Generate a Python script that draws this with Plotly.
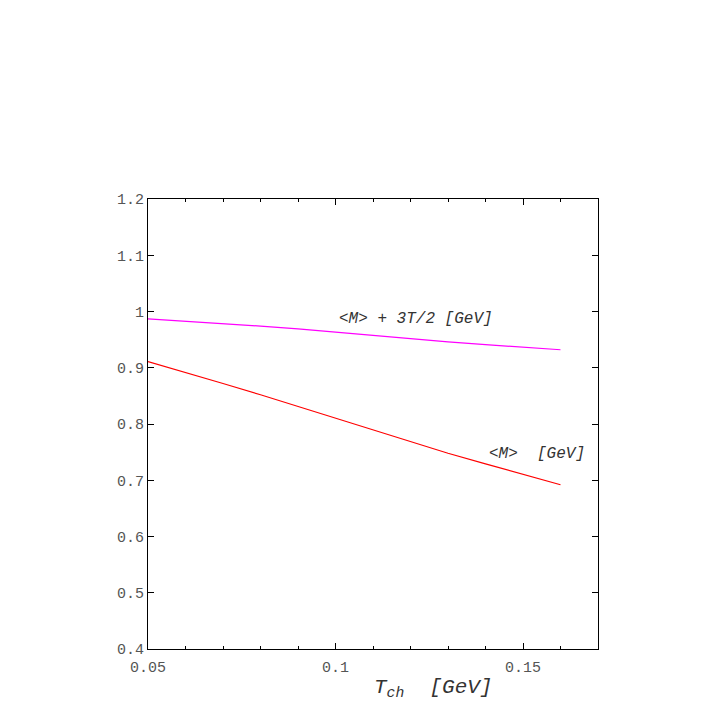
import plotly.graph_objects as go

T = [0.05, 0.06, 0.07, 0.08, 0.09, 0.10, 0.11, 0.12, 0.13, 0.14, 0.15, 0.16]
M_mean = [0.911, 0.892, 0.872, 0.852, 0.831, 0.810, 0.789, 0.768, 0.748, 0.729, 0.710, 0.692]
M_plus = [0.987, 0.983, 0.979, 0.974, 0.969, 0.963, 0.957, 0.952, 0.946, 0.941, 0.936, 0.932]

y_ticks = [0.4, 0.5, 0.6, 0.7, 0.8, 0.9, 1.0, 1.1, 1.2]
y_labels = ["0.4", "0.5", "0.6", "0.7", "0.8", "0.9", "1", "1.1", "1.2"]
x_ticks = [0.05, 0.10, 0.15]
x_labels = ["0.05", "0.1", "0.15"]

mono = "Liberation Mono, Courier New, monospace"
txt = "#333"

fig = go.Figure()
fig.add_trace(go.Scatter(x=T, y=M_plus, mode="lines", line=dict(color="#ff00ff", width=1.2), showlegend=False))
fig.add_trace(go.Scatter(x=T, y=M_mean, mode="lines", line=dict(color="#ff0000", width=1.2), showlegend=False))

fig.update_xaxes(range=[0.05, 0.17], tickvals=x_ticks, ticktext=x_labels, ticks="inside", ticklen=6,
                 tickcolor="black", showline=True, linecolor="black", linewidth=1.2, mirror="ticks",
                 showgrid=False, zeroline=False, ticklabelstandoff=4,
                 tickfont=dict(family=mono, size=15, color="#555"),
                 minor=dict(dtick=0.01, tick0=0.05, ticks="inside", ticklen=3, tickcolor="black", showgrid=False))
fig.update_yaxes(range=[0.4, 1.2], tickvals=y_ticks, ticktext=y_labels, ticks="inside", ticklen=6,
                 tickcolor="black", showline=True, linecolor="black", linewidth=1.2, mirror="ticks",
                 showgrid=False, zeroline=False, ticklabelstandoff=0,
                 tickfont=dict(family=mono, size=15, color="#555"))

fig.add_annotation(x=0.1005, y=0.987, xref="x", yref="y", xanchor="left", yanchor="middle",
                   text="<i>&lt;M&gt; + 3T/2 [GeV]</i>", showarrow=False,
                   font=dict(family=mono, size=16, color=txt))
fig.add_annotation(x=0.1404, y=0.747, xref="x", yref="y", xanchor="left", yanchor="middle",
                   text="<i>&lt;M&gt;\u00a0\u00a0[GeV]</i>", showarrow=False,
                   font=dict(family=mono, size=16, color=txt))
fig.add_annotation(x=(372 - 148) / 450, y=-39 / 450, xref="paper", yref="paper", xanchor="left", yanchor="middle",
                   text="<i>T<sub>ch</sub>\u00a0\u00a0[GeV]</i>", showarrow=False,
                   font=dict(family=mono, size=21, color=txt))

fig.update_layout(width=711, height=703, margin=dict(l=140, r=121, t=191, b=62),
                  plot_bgcolor="white", paper_bgcolor="white")
fig.write_html("out.html")
